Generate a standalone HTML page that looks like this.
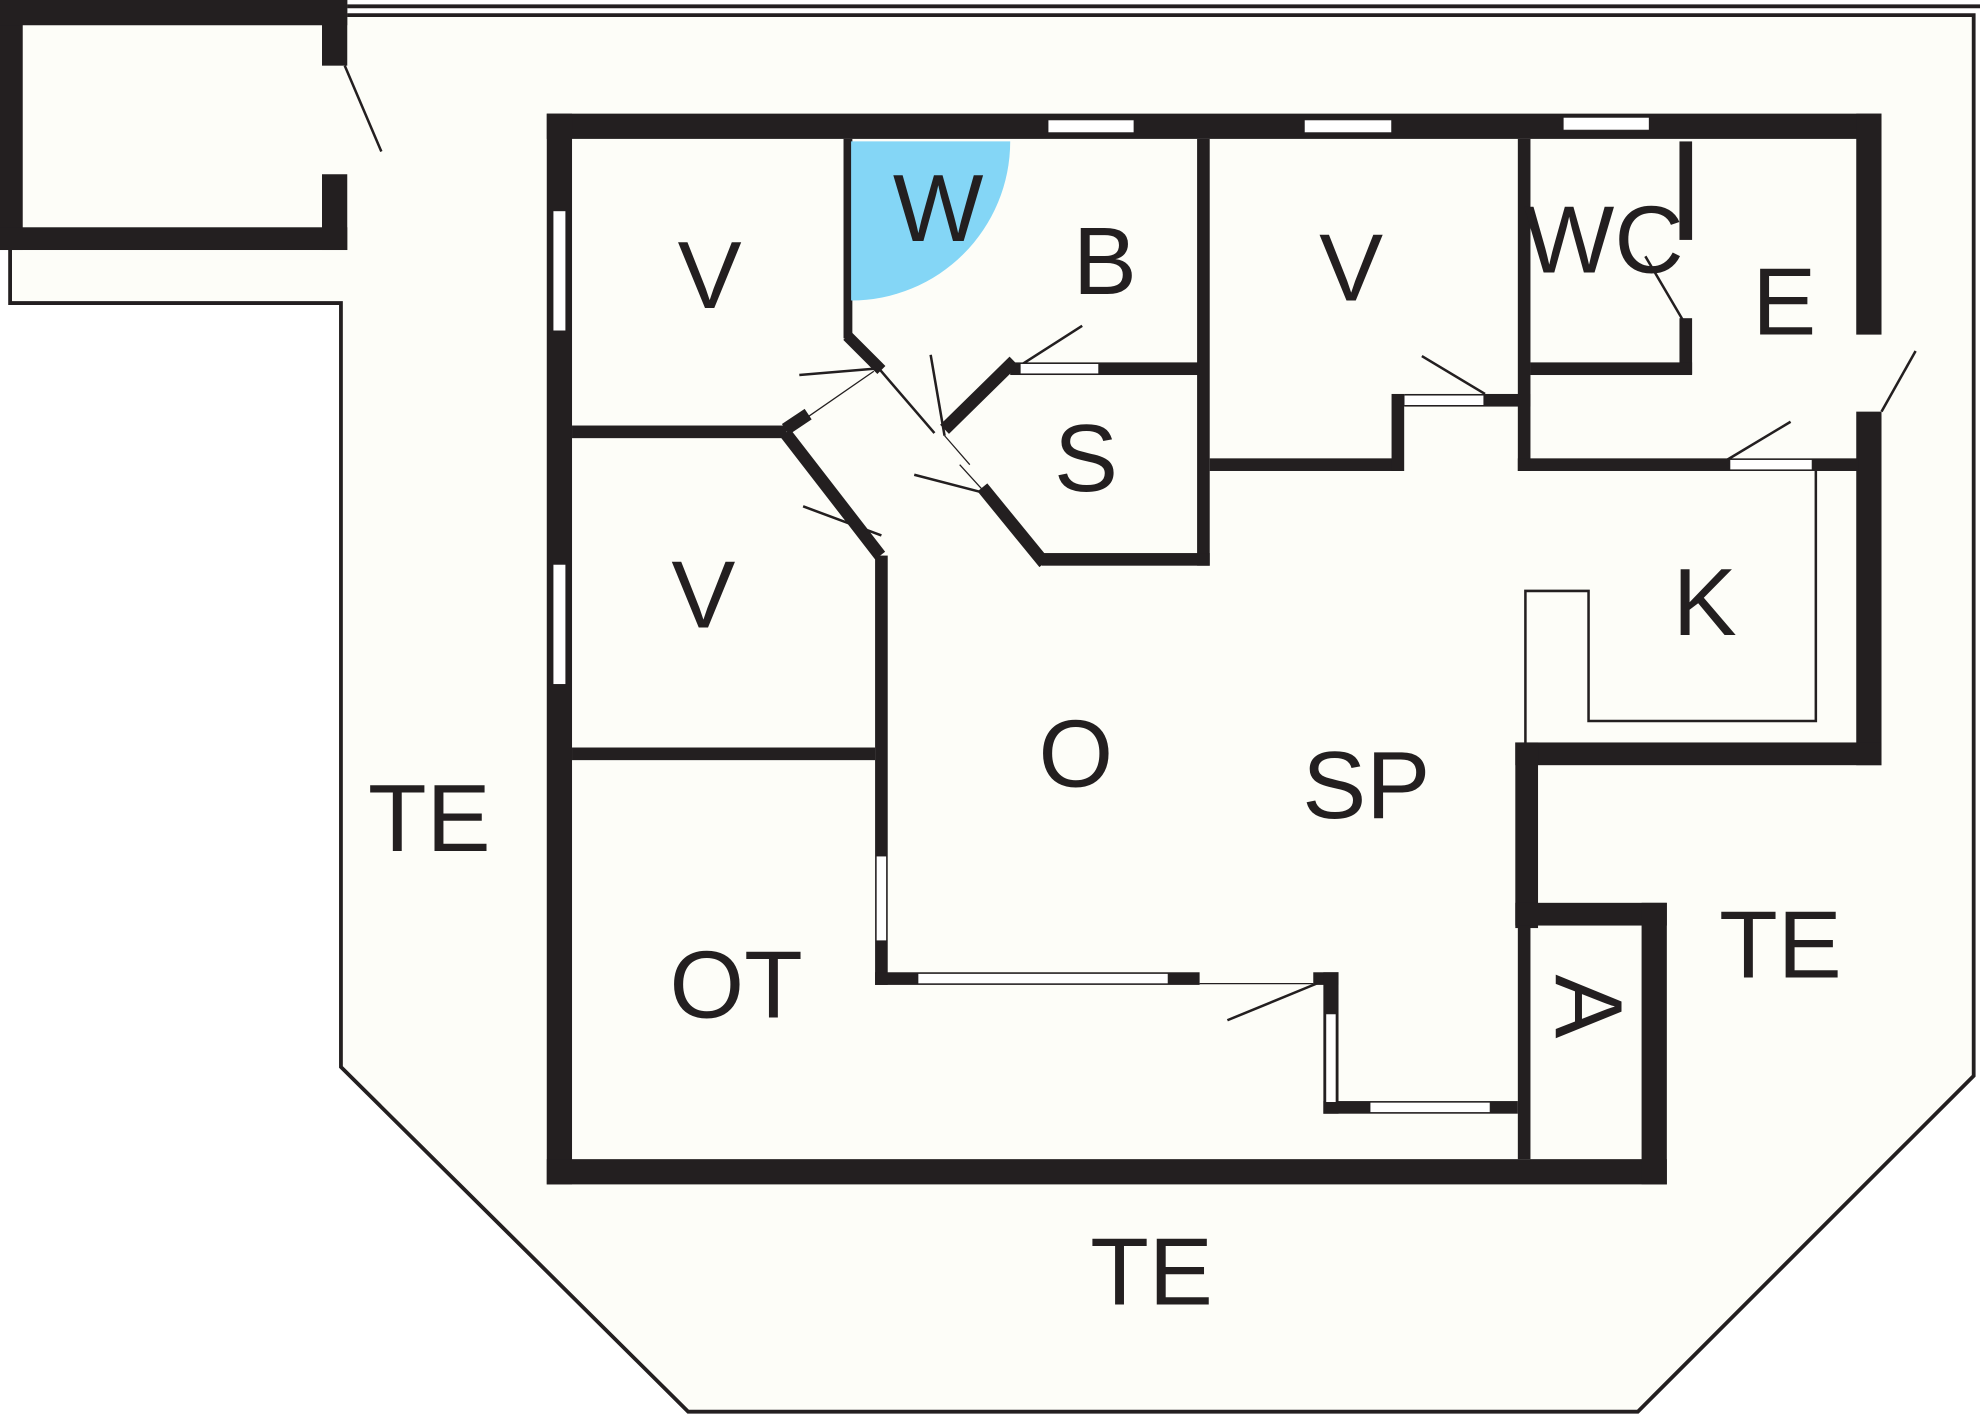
<!DOCTYPE html>
<html><head><style>html,body{margin:0;padding:0;background:#fff;}svg{display:block}</style></head>
<body>
<svg width="1980" height="1418" viewBox="0 0 1568 1123" preserveAspectRatio="none" xmlns="http://www.w3.org/2000/svg">
<rect width="1568" height="1123" fill="#fff"/>
<!-- terrace -->
<polygon points="0,0 275,0 275,12 1563,12 1563,852 1297,1118 545,1118 270,845 270,240 8,240 8,198 0,198" fill="#fdfdf8"/>
<polyline points="8,196 8,240 270,240 270,845 545,1118 1297,1118 1563,852 1563,12 275,12" fill="none" stroke="#231f20" stroke-width="3"/>
<line x1="275" y1="5" x2="1568" y2="5" stroke="#231f20" stroke-width="3"/>
<g fill="#231f20">
<!-- shed -->
<rect x="0" y="0" width="18" height="198"/>
<rect x="0" y="0" width="275" height="20"/>
<rect x="0" y="180" width="275" height="18"/>
<rect x="255" y="0" width="20" height="52"/>
<rect x="255" y="138" width="20" height="60"/>
<!-- outer walls -->
<rect x="433" y="90" width="1057" height="20"/>
<rect x="433" y="90" width="20" height="848"/>
<rect x="433" y="918" width="887" height="20"/>
<rect x="1470" y="90" width="20" height="175"/>
<rect x="1470" y="326" width="20" height="280"/>
<rect x="1200" y="588" width="290" height="18"/>
<rect x="1200" y="588" width="18" height="147"/>
<rect x="1200" y="715" width="120" height="18"/>
<rect x="1300" y="715" width="20" height="223"/>
<rect x="1202" y="733" width="10" height="185"/>
<!-- interior walls -->
<rect x="668" y="110" width="7" height="158"/>
<rect x="453" y="337" width="170" height="10"/>
<rect x="693" y="440" width="10" height="340"/>
<rect x="453" y="592" width="240" height="10"/>
<rect x="693" y="770" width="257" height="10"/>
<rect x="1040" y="770" width="20" height="10"/>
<rect x="1048" y="770" width="12" height="112"/>
<rect x="1048" y="872" width="154" height="10"/>
<rect x="800" y="287" width="150" height="10"/>
<rect x="948" y="110" width="10" height="338"/>
<rect x="825" y="438" width="133" height="10"/>
<rect x="958" y="363" width="152" height="10"/>
<rect x="1102" y="312" width="10" height="61"/>
<rect x="1112" y="312" width="100" height="10"/>
<rect x="1202" y="110" width="10" height="263"/>
<rect x="1330" y="112" width="10" height="78"/>
<rect x="1330" y="252" width="10" height="44"/>
<rect x="1212" y="287" width="128" height="10"/>
<rect x="1202" y="363" width="270" height="10"/>
</g>
<g stroke="#231f20" fill="none" stroke-linecap="butt">
<polyline points="671,266 698,293" stroke-width="9"/>
<line x1="622" y1="343" x2="697" y2="440" stroke-width="10"/>
<line x1="622" y1="340" x2="640" y2="328" stroke-width="10"/>
<line x1="748" y1="340" x2="803" y2="286" stroke-width="10"/>
<line x1="778" y1="386" x2="827" y2="446" stroke-width="10"/>
<g stroke-width="2">
<line x1="273" y1="52" x2="302" y2="120"/>
<line x1="1490" y1="326" x2="1517" y2="278"/>
<line x1="633" y1="297" x2="692" y2="292"/>
<line x1="640" y1="330" x2="692" y2="294" stroke-width="1"/>
<line x1="697" y1="293" x2="740" y2="343"/>
<line x1="737" y1="281" x2="748" y2="345"/>
<line x1="748" y1="345" x2="768" y2="368" stroke-width="1"/>
<line x1="724" y1="376" x2="778" y2="390"/>
<line x1="760" y1="368" x2="780" y2="390" stroke-width="1"/>
<line x1="636" y1="401" x2="698" y2="424"/>
<line x1="807" y1="290" x2="857" y2="258"/>
<line x1="1126" y1="282" x2="1176" y2="312"/>
<line x1="1303" y1="203" x2="1333" y2="254"/>
<line x1="1368" y1="364" x2="1418" y2="334"/>
<line x1="972" y1="808" x2="1045" y2="778"/>
<line x1="950" y1="779" x2="1040" y2="779" stroke-width="1"/>
<polyline points="1208,588 1208,468 1258,468 1258,571 1438,571 1438,373"/>
</g>
</g>
<g fill="#fff" stroke="#231f20" stroke-width="0.5">
<rect x="830" y="95" width="68" height="10"/>
<rect x="1033" y="95" width="69" height="10"/>
<rect x="1238" y="93" width="68" height="10"/>
<rect x="438" y="167" width="10" height="95"/>
<rect x="438" y="447" width="10" height="95"/>
<rect x="694" y="678" width="8" height="67"/>
<rect x="727" y="771" width="198" height="8"/>
<rect x="1050" y="803" width="8" height="70"/>
<rect x="1085" y="873" width="95" height="8"/>
<rect x="808" y="288" width="62" height="8"/>
<rect x="1112" y="313" width="63" height="8"/>
<rect x="1370" y="364" width="65" height="8"/>
</g>
<path d="M674,112 L800,112 A126,126 0 0 1 674,238 Z" fill="#84d6f6"/>
<g font-family="Liberation Sans, sans-serif" font-size="76" fill="#231f20" text-anchor="middle">
<text x="562" y="244">V</text>
<text x="743" y="191">W</text>
<text x="875" y="233">B</text>
<text x="1070" y="238">V</text>
<text x="1270" y="216">WC</text>
<text x="1413" y="265">E</text>
<text x="860" y="389">S</text>
<text x="557" y="497">V</text>
<text x="1350" y="503">K</text>
<text x="852" y="623">O</text>
<text x="1082" y="648">SP</text>
<text x="340" y="674">TE</text>
<text x="1410" y="774">TE</text>
<text x="583" y="806">OT</text>
<text x="912" y="1033">TE</text>
<text transform="translate(1232,797) rotate(90)" x="0" y="0">A</text>
</g>
</svg>
</body></html>
